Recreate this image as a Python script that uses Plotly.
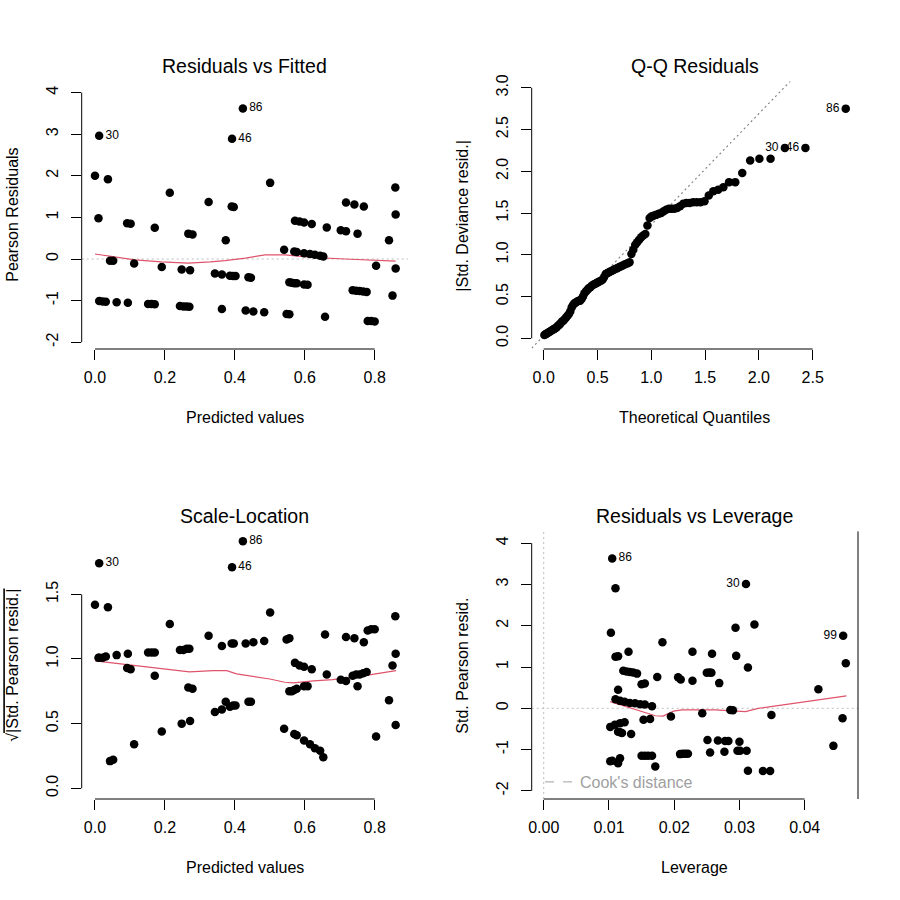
import plotly.graph_objects as go
from statistics import NormalDist

# ---------------- data ----------------
# Panel 1 / 3 : fitted values, Pearson residuals, sqrt(|std Pearson resid|)
fitted = [0.000, 0.012, 0.037, 0.010, 0.043, 0.052, 0.012, 0.022, 0.031, 0.062,
          0.094, 0.092, 0.102, 0.112, 0.152, 0.162, 0.171, 0.171, 0.191, 0.214,
          0.243, 0.253, 0.262, 0.270, 0.248, 0.272, 0.267, 0.279, 0.325, 0.343,
          0.363, 0.363, 0.374, 0.386, 0.395, 0.402, 0.391, 0.397, 0.392, 0.423,
          0.431, 0.439, 0.446, 0.453, 0.484, 0.501, 0.541, 0.548, 0.556, 0.556,
          0.563, 0.570, 0.577, 0.570, 0.577, 0.572, 0.585, 0.598, 0.620, 0.598,
          0.615, 0.629, 0.644, 0.653, 0.598, 0.608, 0.658, 0.663, 0.703, 0.718,
          0.718, 0.742, 0.769, 0.751, 0.737, 0.747, 0.757, 0.767, 0.777, 0.780,
          0.790, 0.800, 0.804, 0.841, 0.851, 0.859, 0.860, 0.860]
pearson_resid = [2.00, 2.96, 1.92, 0.98, -0.04, -0.04, -1.01, -1.02, -1.03, -1.04,
                 -1.05, 0.86, 0.85, -0.11, -1.08, -1.08, -1.09, 0.75, -0.19, 1.59,
                 -1.13, -1.14, -1.14, -1.15, -0.25, -0.27, 0.61, 0.59, 1.37, -0.35,
                 -0.37, -1.20, 0.45, -0.40, -0.41, -0.41, 1.26, 1.25, 2.89, 3.62,
                 -1.24, -0.44, -0.45, -1.26, -1.28, 1.83, 0.22, -1.32, -1.33, -0.56,
                 -0.57, -0.58, -0.58, 0.18, 0.17, 0.92, 0.90, 0.88, 0.84, 0.14,
                 0.12, 0.10, 0.08, 0.06, -0.61, -0.62, -1.39, 0.76, 0.69, 0.67,
                 1.36, 1.31, 1.26, 0.61, -0.75, -0.76, -0.77, -0.78, -0.79, -1.49,
                 -1.49, -1.50, -0.16, 0.45, -0.88, 1.72, 1.07, -0.23]
sqrt_abs_std_resid = [1.42, 1.74, 1.40, 1.01, 0.21, 0.22, 1.01, 1.01, 1.02, 1.03,
                      1.04, 0.93, 0.92, 0.34, 1.05, 1.05, 1.05, 0.87, 0.44, 1.27,
                      1.07, 1.07, 1.08, 1.08, 0.50, 0.52, 0.78, 0.77, 1.18, 0.59,
                      0.61, 1.10, 0.67, 0.63, 0.64, 0.64, 1.12, 1.12, 1.71, 1.91,
                      1.12, 0.67, 0.67, 1.13, 1.14, 1.36, 0.46, 1.15, 1.16, 0.75,
                      0.75, 0.76, 0.77, 0.42, 0.41, 0.97, 0.95, 0.94, 0.92, 0.37,
                      0.34, 0.31, 0.29, 0.24, 0.79, 0.79, 1.19, 0.88, 0.84, 0.83,
                      1.17, 1.16, 1.13, 0.79, 0.87, 0.88, 0.88, 0.89, 0.90, 1.22,
                      1.23, 1.23, 0.40, 0.68, 0.95, 1.33, 1.04, 0.49]
fit_point_labels = {1: "30", 38: "46", 39: "86"}

rvf_smooth_x = [0.0, 0.06, 0.114, 0.19, 0.267, 0.33, 0.372, 0.43, 0.486, 0.543, 0.62, 0.715, 0.80, 0.86]
rvf_smooth_y = [0.12, 0.05, -0.02, -0.07, -0.10, -0.07, -0.04, 0.02, 0.10, 0.10, 0.04, 0.0, -0.03, -0.05]
sl_smooth_x = [0.0, 0.11, 0.205, 0.27, 0.338, 0.377, 0.405, 0.453, 0.50, 0.543, 0.567, 0.625, 0.68, 0.758, 0.861]
sl_smooth_y = [0.985, 0.95, 0.915, 0.90, 0.91, 0.91, 0.885, 0.865, 0.845, 0.82, 0.815, 0.83, 0.84, 0.865, 0.91]

# Panel 2 : sorted |std deviance residuals| (half-normal Q-Q)
qq_abs_dev_resid = [0.04, 0.05, 0.06, 0.07, 0.08, 0.09, 0.10, 0.11, 0.12, 0.13,
                    0.15, 0.16, 0.18, 0.20, 0.21, 0.23, 0.25, 0.27, 0.29, 0.32,
                    0.37, 0.40, 0.42, 0.43, 0.44, 0.45, 0.45, 0.47, 0.50, 0.54,
                    0.56, 0.58, 0.60, 0.61, 0.63, 0.64, 0.65, 0.66, 0.67, 0.68,
                    0.69, 0.70, 0.73, 0.77, 0.78, 0.79, 0.80, 0.81, 0.82, 0.83,
                    0.84, 0.85, 0.86, 0.87, 0.88, 0.89, 0.90, 0.91, 1.01, 1.06,
                    1.12, 1.15, 1.18, 1.21, 1.23, 1.25, 1.35, 1.44, 1.46, 1.47,
                    1.48, 1.49, 1.50, 1.52, 1.54, 1.55, 1.55, 1.55, 1.56, 1.58,
                    1.61, 1.62, 1.62, 1.63, 1.63, 1.63, 1.64, 1.71, 1.76, 1.78,
                    1.81, 1.87, 1.87, 1.98, 2.13, 2.15, 2.15, 2.28, 2.28, 2.75]
qq_point_labels = {97: "30", 98: "46", 99: "86"}
qq_line_intercept = 0.03
qq_line_slope = 1.33

# Panel 4 : leverage vs standardized Pearson residuals
leverage = [0.0105, 0.0110, 0.0310, 0.0294, 0.0323, 0.0103, 0.0182, 0.0459, 0.0110, 0.0114,
            0.0130, 0.0228, 0.0258, 0.0295, 0.0463, 0.0313, 0.0122, 0.0127, 0.0132, 0.0137,
            0.0143, 0.0250, 0.0254, 0.0257, 0.0174, 0.0206, 0.0210, 0.0228, 0.0269, 0.0150,
            0.0155, 0.0114, 0.0421, 0.0110, 0.0117, 0.0124, 0.0132, 0.0140, 0.0148, 0.0155,
            0.0166, 0.0286, 0.0290, 0.0243, 0.0349, 0.0195, 0.0458, 0.0153, 0.0163, 0.0102,
            0.0109, 0.0117, 0.0124, 0.0114, 0.0120, 0.0134, 0.0117, 0.0251, 0.0267, 0.0278,
            0.0283, 0.0300, 0.0444, 0.0255, 0.0277, 0.0297, 0.0301, 0.0311, 0.0209, 0.0213,
            0.0217, 0.0221, 0.0150, 0.0155, 0.0160, 0.0166, 0.0102, 0.0105, 0.0114, 0.0117,
            0.0171, 0.0313, 0.0336, 0.0347]
std_pearson_resid = [3.63, 2.91, 3.01, 1.95, 2.03, 1.83, 1.60, 1.76, 1.25, 1.26,
                     1.37, 1.37, 1.32, 1.27, 1.09, 0.99, 0.91, 0.89, 0.88, 0.87,
                     0.84, 0.86, 0.87, 0.86, 0.76, 0.75, 0.70, 0.67, 0.61, 0.58,
                     0.60, 0.45, 0.46, 0.22, 0.18, 0.16, 0.13, 0.12, 0.10, 0.09,
                     0.05, -0.04, -0.05, -0.12, -0.16, -0.20, -0.24, -0.28, -0.26, -0.45,
                     -0.40, -0.36, -0.34, -0.57, -0.60, -0.62, -0.58, -0.77, -0.78, -0.79,
                     -0.79, -0.81, -0.91, -1.07, -1.05, -1.03, -1.03, -1.03, -1.11, -1.10,
                     -1.10, -1.10, -1.15, -1.15, -1.15, -1.15, -1.28, -1.27, -1.33, -1.21,
                     -1.41, -1.51, -1.52, -1.52]
lev_point_labels = {0: ("86", "middle right"), 2: ("30", "middle left"), 7: ("99", "middle left")}
rvl_smooth_x = [0.0102, 0.0171, 0.0183, 0.0199, 0.0212, 0.0263, 0.0309, 0.0329, 0.0464]
rvl_smooth_y = [0.16, -0.18, -0.19, -0.07, -0.04, -0.04, -0.08, 0.0, 0.30]

# tick values / labels
fit_ticks = [0.0, 0.2, 0.4, 0.6, 0.8]
fit_tick_text = ["0.0", "0.2", "0.4", "0.6", "0.8"]
resid_ticks = [-2, -1, 0, 1, 2, 3, 4]
resid_tick_text = ["-2", "-1", "0", "1", "2", "3", "4"]
qq_x_ticks = [0.0, 0.5, 1.0, 1.5, 2.0, 2.5]
qq_x_tick_text = ["0.0", "0.5", "1.0", "1.5", "2.0", "2.5"]
qq_y_ticks = [0.0, 0.5, 1.0, 1.5, 2.0, 2.5, 3.0]
qq_y_tick_text = ["0.0", "0.5", "1.0", "1.5", "2.0", "2.5", "3.0"]
sl_ticks = [0.0, 0.5, 1.0, 1.5]
sl_tick_text = ["0.0", "0.5", "1.0", "1.5"]
lev_ticks = [0.00, 0.01, 0.02, 0.03, 0.04]
lev_tick_text = ["0.00", "0.01", "0.02", "0.03", "0.04"]

# ---------------- styling / layout ----------------
FONT = "Liberation Sans, Arial, Helvetica, sans-serif"
W = H = 900
RED = "#DF536B"
def fx(p): return p / W
def fy(p): return 1 - p / H

LX, RX = (81.7, 408.0), (531.7, 858.0)
TY, BY = (81.4, 349.0), (531.4, 799.0)

panels = [
    ("x", "y", LX, TY, [-0.038, 0.8953], [-2.163, 4.269], fit_ticks, fit_tick_text, resid_ticks, resid_tick_text),
    ("x2", "y2", RX, TY, [-0.1115, 2.921], [-0.128, 3.076], qq_x_ticks, qq_x_tick_text, qq_y_ticks, qq_y_tick_text),
    ("x3", "y3", LX, BY, [-0.038, 0.8953], [-0.083, 1.987], fit_ticks, fit_tick_text, sl_ticks, sl_tick_text),
    ("x4", "y4", RX, BY, [-0.00184, 0.04817], [-2.197, 4.285], lev_ticks, lev_tick_text, resid_ticks, resid_tick_text),
]

fig = go.Figure()
layout = dict(width=W, height=H, margin=dict(l=0, r=0, t=0, b=0),
              template="none", paper_bgcolor="white", plot_bgcolor="white",
              font=dict(family=FONT, color="black", size=16),
              showlegend=True, shapes=[], annotations=[])

for xr, yr, xd, yd, xrng, yrng, xt, xtt, yt, ytt in panels:
    xk = "xaxis" + xr[1:]
    yk = "yaxis" + yr[1:]
    common = dict(showgrid=False, zeroline=False, showline=False, ticks="outside",
                  ticklen=10, tickwidth=1, tickcolor="black", automargin=False,
                  tickfont=dict(family=FONT, size=16, color="black"), fixedrange=True)
    layout[xk] = dict(domain=[fx(xd[0]), fx(xd[1])], anchor=yr, range=xrng,
                      tickmode="array", tickvals=xt, ticktext=xtt, ticklabelstandoff=4, **common)
    layout[yk] = dict(domain=[fy(yd[1]), fy(yd[0])], anchor=xr, range=yrng,
                      tickmode="array", tickvals=yt, ticktext=ytt, tickangle=-90,
                      ticklabelstandoff=6, **common)
    layout["shapes"].append(dict(type="line", xref=xr, yref=yr + " domain", x0=xt[0], x1=xt[-1],
                                 y0=0, y1=0, line=dict(color="black", width=1)))
    layout["shapes"].append(dict(type="line", xref=xr + " domain", yref=yr, x0=0, x1=0,
                                 y0=yt[0], y1=yt[-1], line=dict(color="black", width=1)))

DOT = "2px,3px"
layout["shapes"].append(dict(type="line", xref="x domain", yref="y", x0=0, x1=1, y0=0, y1=0,
                             line=dict(color="#BEBEBE", width=1, dash=DOT), layer="below"))
layout["shapes"].append(dict(type="line", xref="x4 domain", yref="y4", x0=0, x1=1, y0=0, y1=0,
                             line=dict(color="#BEBEBE", width=1, dash=DOT), layer="below"))
layout["shapes"].append(dict(type="line", xref="x4", yref="y4 domain", x0=0, x1=0, y0=0, y1=1,
                             line=dict(color="#BEBEBE", width=1, dash=DOT), layer="below"))
layout["shapes"].append(dict(type="line", xref="x4 domain", yref="y4 domain", x0=1, x1=1, y0=0, y1=1,
                             line=dict(color="black", width=1)))

MK = dict(color="black", size=8.5, line=dict(width=0))
LBL = dict(family=FONT, size=12, color="black")

def text_list(n, labels):
    t = [""] * n
    for i, v in labels.items():
        t[i] = v if isinstance(v, str) else v[0]
    return t

fig.add_trace(go.Scatter(x=rvf_smooth_x, y=rvf_smooth_y, mode="lines", xaxis="x", yaxis="y",
                         line=dict(color=RED, width=1.2), showlegend=False, hoverinfo="skip"))
fig.add_trace(go.Scatter(x=fitted, y=pearson_resid, mode="markers+text", xaxis="x", yaxis="y",
                         marker=MK, text=text_list(len(fitted), fit_point_labels),
                         textposition="middle right", textfont=LBL, showlegend=False))

n = len(qq_abs_dev_resid)
nd = NormalDist()
theo_q = [nd.inv_cdf(0.5 + 0.5 * (i + 0.5) / n) for i in range(n)]
qx = [panels[1][4][0], panels[1][4][1]]
fig.add_trace(go.Scatter(x=qx, y=[qq_line_intercept + qq_line_slope * v for v in qx], mode="lines",
                         xaxis="x2", yaxis="y2", line=dict(color="#7F7F7F", width=1.1, dash=DOT),
                         showlegend=False, hoverinfo="skip"))
fig.add_trace(go.Scatter(x=theo_q, y=qq_abs_dev_resid, mode="markers+text", xaxis="x2", yaxis="y2",
                         marker=MK, text=text_list(n, qq_point_labels),
                         textposition="middle left", textfont=LBL, showlegend=False))

fig.add_trace(go.Scatter(x=sl_smooth_x, y=sl_smooth_y, mode="lines", xaxis="x3", yaxis="y3",
                         line=dict(color=RED, width=1.2), showlegend=False, hoverinfo="skip"))
fig.add_trace(go.Scatter(x=fitted, y=sqrt_abs_std_resid, mode="markers+text", xaxis="x3", yaxis="y3",
                         marker=MK, text=text_list(len(fitted), fit_point_labels),
                         textposition="middle right", textfont=LBL, showlegend=False))

fig.add_trace(go.Scatter(x=rvl_smooth_x, y=rvl_smooth_y, mode="lines", xaxis="x4", yaxis="y4",
                         line=dict(color=RED, width=1.2), showlegend=False, hoverinfo="skip"))
lev_pos = ["middle right"] * len(leverage)
for i, v in lev_point_labels.items():
    lev_pos[i] = v[1]
fig.add_trace(go.Scatter(x=leverage, y=std_pearson_resid, mode="markers+text", xaxis="x4", yaxis="y4",
                         marker=MK, text=text_list(len(leverage), lev_point_labels),
                         textposition=lev_pos, textfont=LBL, showlegend=False))
fig.add_trace(go.Scatter(x=[None], y=[None], mode="lines", xaxis="x4", yaxis="y4",
                         name="Cook's distance", line=dict(color="#A0A0A0", width=1, dash="dash"),
                         showlegend=True))

layout["legend"] = dict(x=fx(540), y=fy(782), xanchor="left", yanchor="middle",
                        bgcolor="rgba(0,0,0,0)", font=dict(family=FONT, size=16, color="#A0A0A0"),
                        itemwidth=30, borderwidth=0)

def ann(text, x, y, size, angle=0):
    return dict(text=text, x=fx(x), y=fy(y), xref="paper", yref="paper", showarrow=False,
                xanchor="center", yanchor="middle", textangle=angle,
                font=dict(family=FONT, size=size, color="black"))

titles = [("Residuals vs Fitted", 244.85, 65.8), ("Q-Q Residuals", 694.85, 65.8),
          ("Scale-Location", 244.85, 515.8), ("Residuals vs Leverage", 694.85, 515.8)]
for t, x, y in titles:
    layout["annotations"].append(ann(t, x, y, 19.5))
xlabels = [("Predicted values", 244.85, 417.5), ("Theoretical Quantiles", 694.85, 417.5),
           ("Predicted values", 244.85, 867.5), ("Leverage", 694.85, 867.5)]
for t, x, y in xlabels:
    layout["annotations"].append(ann(t, x, y, 16))
ylabels = [("Pearson Residuals", 12.5, 215.2), ("|Std. Deviance resid.|", 462.5, 215.2),
           ("√<span style=\"text-decoration:overline\">|Std. Pearson resid.|</span>", 12.5, 665.2),
           ("Std. Pearson resid.", 462.5, 665.2)]
for t, x, y in ylabels:
    layout["annotations"].append(ann(t, x, y, 16, -90))

fig.update_layout(**layout)
fig.write_html("out.html", config={"displayModeBar": False},
               post_script="document.body.style.margin='0';document.body.style.overflow='hidden';")
